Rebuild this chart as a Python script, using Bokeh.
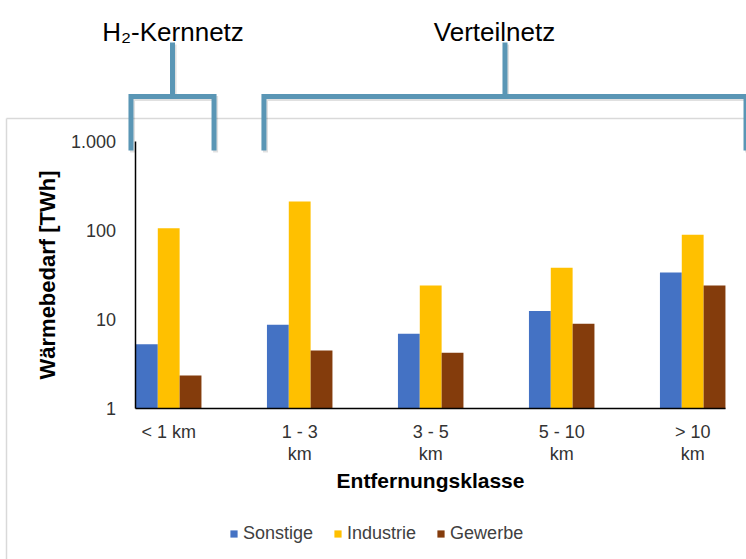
from bokeh.plotting import figure
from bokeh.models import (Range1d, FixedTicker, Legend, LegendItem, ColumnDataSource,
                          LinearAxis, LogAxis, LinearScale)
from bokeh.transform import dodge
from bokeh.core.properties import value
from bokeh.embed import file_html
from bokeh.resources import INLINE

# ---------------- data ----------------
categories = ["< 1 km", "1 - 3\nkm", "3 - 5\nkm", "5 - 10\nkm", "> 10\nkm"]
sonstige = [5.3, 8.8, 6.95, 12.5, 33.9]
industrie = [106, 212, 24.2, 38.2, 89.7]
gewerbe = [2.36, 4.5, 4.25, 9.0, 24.2]
series_names = ["Sonstige", "Industrie", "Gewerbe"]
series_colors = ["#4472C4", "#FFC000", "#843C0C"]
y_ticks = [1, 10, 100, 1000]
y_tick_labels = ["1", "10", "100", "1.000"]
group_labels = ["H\u2082-Kernnetz", "Verteilnetz"]

# ---------------- layout constants ----------------
FONT = "Liberation Sans"
W, H = 746, 559
# x in category units (131 px per category); y log scale (89.1 px per decade)
x_range = Range1d(-1.2840, 4.4107)
y_range = Range1d(10 ** -1.6914, 10 ** 4.5825)

p = figure(width=W, height=H, x_range=x_range, y_range=y_range, y_axis_type="log",
           x_axis_location=None, y_axis_location=None,
           output_backend="svg", toolbar_location=None, min_border=0)
p.outline_line_color = None
p.background_fill_color = "white"
p.border_fill_color = "white"
p.grid.visible = False

# page-pixel ranges for decorations
p.extra_x_ranges = {"px": Range1d(0, W)}
p.extra_y_ranges = {"py": Range1d(H, 0)}
p.extra_x_scales = {"px": LinearScale()}
p.extra_y_scales = {"py": LinearScale()}

src = ColumnDataSource(dict(x=list(range(len(categories))), sonstige=sonstige,
                            industrie=industrie, gewerbe=gewerbe))
bw = 1 / 6
renderers = []
for i, (col, color) in enumerate(zip(["sonstige", "industrie", "gewerbe"], series_colors)):
    r = p.vbar(x=dodge("x", (i - 1) * bw, range=p.x_range), top=col, bottom=1, width=bw,
               source=src, fill_color=color, line_color=None)
    renderers.append(r)

# axes
xaxis = LinearAxis(fixed_location=1, bounds=(-0.25, 4.25))
xaxis.ticker = FixedTicker(ticks=list(range(len(categories))))
xaxis.major_label_overrides = {i: c for i, c in enumerate(categories)}
xaxis.axis_label = "Entfernungsklasse"
yaxis = LogAxis(fixed_location=-0.25, bounds=(1, 1000))
yaxis.ticker = FixedTicker(ticks=y_ticks)
yaxis.major_label_overrides = dict(zip(y_ticks, y_tick_labels))
yaxis.axis_label = "Wärmebedarf [TWh]"
for ax in (xaxis, yaxis):
    ax.axis_line_color = "black"
    ax.axis_line_width = 1.5
    ax.major_tick_line_color = None
    ax.minor_tick_line_color = None
    ax.major_tick_out = 0
    ax.major_tick_in = 0
    ax.major_label_text_font = FONT
    ax.major_label_text_font_size = "18px"
    ax.major_label_text_color = "#333333"
    ax.axis_label_text_font = FONT
    ax.axis_label_text_font_style = "bold"
    ax.axis_label_text_color = "black"
xaxis.major_label_text_line_height = 1.1
xaxis.axis_label_text_font_size = "21px"
yaxis.axis_label_text_font_size = "22px"
xaxis.major_label_standoff = 13
xaxis.axis_label_standoff = 2
yaxis.major_label_standoff = 20
yaxis.axis_label_standoff = 7
p.add_layout(xaxis, "below")
p.add_layout(yaxis, "left")

# gray chart-area border (left and top visible)
p.multi_line(xs=[[6, W], [6, 6]], ys=[[118, 118], [118, H]],
             x_range_name="px", y_range_name="py", line_color="#D9D9D9", line_width=1.5)

# brackets (x in category units, y in page px)
br_left = [-0.288, 0.727]
br_right = [0.346, 4.407]
br_y, leg_bottom, stem_top = 96, 150, 42
bxs, bys = [], []
for l, r in zip(br_left, br_right):
    bxs.append([l, l, r, r])
    bys.append([leg_bottom, br_y, br_y, leg_bottom])
    c = (l + r) / 2
    bxs.append([c, c])
    bys.append([br_y, stem_top])
# soft shadow
p.multi_line(xs=[[x + 0.012 for x in xs] for xs in bxs], ys=[[y + 2 for y in ys] for ys in bys],
             y_range_name="py", line_color="black", line_alpha=0.12, line_width=5,
             line_join="miter", line_cap="butt")
p.multi_line(xs=bxs, ys=bys, y_range_name="py", line_color="#5A96B5", line_width=5,
             line_join="miter", line_cap="butt")

label_x = [0.033, 2.487]
p.text(x=label_x, y=[31, 31], text=group_labels, y_range_name="py",
       text_align="center", text_baseline="alphabetic", text_font=value(FONT),
       text_font_size="26px", text_color="black")

legend = Legend(items=[LegendItem(label=n, renderers=[r]) for n, r in zip(series_names, renderers)],
                orientation="horizontal", location=(229, 15), glyph_width=9, glyph_height=9,
                label_standoff=5, spacing=20, padding=0, margin=0,
                border_line_color=None, background_fill_alpha=0,
                label_text_font=FONT, label_text_font_size="18px", label_text_color="#404040")
p.add_layout(legend, "center")

open("out.html", "w").write(file_html(p, INLINE))
